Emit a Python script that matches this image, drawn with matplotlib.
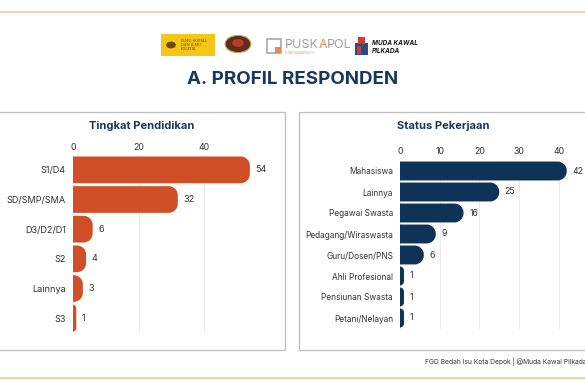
import numpy as np
import matplotlib.pyplot as plt
from matplotlib.path import Path
from matplotlib.patches import PathPatch, Rectangle, Circle

plt.rcParams['font.family'] = ['Inter', 'DejaVu Sans']

# data
pendidikan_labels = ["S1/D4", "SD/SMP/SMA", "D3/D2/D1", "S2", "Lainnya", "S3"]
pendidikan_values = [54, 32, 6, 4, 3, 1]
pendidikan_ticks = [0, 20, 40]

pekerjaan_labels = ["Mahasiswa", "Lainnya", "Pegawai Swasta", "Pedagang/Wiraswasta",
                    "Guru/Dosen/PNS", "Ahli Profesional", "Pensiunan Swasta", "Petani/Nelayan"]
pekerjaan_values = [42, 25, 16, 9, 6, 1, 1, 1]
pekerjaan_ticks = [0, 10, 20, 30, 40]

W, H = 585, 390
fig = plt.figure(figsize=(W / 100, H / 100), dpi=100)
fig.patch.set_facecolor("white")
renderer = fig.canvas.get_renderer()


def fx(x):
    return x / W


def fy(y):
    return 1 - y / H


def box(x0, y0, x1, y1):
    # pixel box (top-left origin) -> add_axes rect
    return [fx(x0), fy(y1), fx(x1) - fx(x0), fy(y0) - fy(y1)]


# frame lines
line_col = "#F4C9A4"
fig.add_artist(plt.Line2D([0, 1], [fy(12), fy(12)], color=line_col, lw=1.3))
fig.add_artist(plt.Line2D([0, 1], [fy(378), fy(378)], color=line_col, lw=1.3))

# panel boxes
fig.add_artist(Rectangle((fx(-2), fy(350)), fx(287), fy(112) - fy(350),
                         fill=False, ec="#BDBDBD", lw=0.9))
fig.add_artist(Rectangle((fx(299), fy(350)), fx(300), fy(112) - fy(350),
                         fill=False, ec="#BDBDBD", lw=0.9))

# logos (rough)
fig.add_artist(Rectangle((fx(161), fy(56)), fx(54), fy(34) - fy(56), color="#F5C518", lw=0))
fig.add_artist(Circle((fx(171), fy(45)), 0.007, color="#6B4A10"))
fig.text(fx(181), fy(45), "ILMU SOSIAL\nDAN ILMU\nPOLITIK", fontsize=2.6, color="#5A4410",
         va="center", ha="left", family="DejaVu Serif", linespacing=1.0)
fig.add_artist(Circle((fx(238), fy(44)), 0.022, fc="#5B2E1E", ec="#C9A640", lw=0.8))
fig.add_artist(Circle((fx(238), fy(43)), 0.01, fc="#C0392B", ec="none"))
fig.add_artist(Rectangle((fx(267), fy(53)), fx(14), fy(39) - fy(53),
                         fill=False, ec="#A8A8A8", lw=1.2))
fig.add_artist(Rectangle((fx(275), fy(53)), fx(6), fy(47) - fy(53), color="#E8884A", lw=0))

# PUSKAPOL word, one part after the other
px = fx(285)
for part, col in [("PUSK", "#A0A0A0"), ("A", "#E8884A"), ("POL", "#A0A0A0")]:
    t = fig.text(px, fy(45), part, fontsize=9, color=col, va="center", ha="left")
    px = fig.transFigure.inverted().transform(
        (t.get_window_extent(renderer).x1 - 0.5, 0))[0]
fig.text(fx(285), fy(53.5), "PUSAT KAJIAN POLITIK", fontsize=1.8, color="#E8884A",
         va="center", ha="left")
fig.add_artist(Rectangle((fx(355), fy(55)), fx(13), fy(43) - fy(55), color="#1F4E8C", lw=0))
fig.add_artist(Rectangle((fx(357), fy(54)), fx(4), fy(46) - fy(54), color="#D33A2C", lw=0))
fig.add_artist(Rectangle((fx(358), fy(44)), fx(7), fy(37) - fy(44), color="#D33A2C", lw=0))
fig.text(fx(372), fy(43), "MUDA KAWAL", fontsize=4.6, color="#1A1A1A", weight="bold",
         style="italic", va="center", ha="left")
fig.text(fx(372), fy(51), "PILKADA", fontsize=4.6, color="#1A1A1A", weight="bold",
         style="italic", va="center", ha="left")

# title
navy_t = "#17375E"
fig.text(0.5, fy(80), "A. PROFIL RESPONDEN", fontsize=13.5, weight="bold",
         color=navy_t, ha="center", va="center")

# footer
fig.text(fx(425), fy(362), "FGD Bedah Isu Kota Depok | @Muda Kawal Pilkada",
         fontsize=4.8, color="#333333", ha="left", va="center")


def rounded_bars(ax, bars, r_px, color):
    pos = ax.get_position()
    x0l, x1l = ax.get_xlim()
    y0l, y1l = ax.get_ylim()
    sx = pos.width * W / abs(x1l - x0l)
    sy = pos.height * H / abs(y1l - y0l)
    k = 0.5523
    for rect in bars:
        x0, y0 = rect.get_x(), rect.get_y()
        w, h = rect.get_width(), rect.get_height()
        r = min(r_px, w * sx, h * sy / 2)
        rx, ry = r / sx, r / sy
        verts = [(x0, y0), (x0 + w - rx, y0),
                 (x0 + w - rx + k * rx, y0), (x0 + w, y0 + ry - k * ry), (x0 + w, y0 + ry),
                 (x0 + w, y0 + h - ry),
                 (x0 + w, y0 + h - ry + k * ry), (x0 + w - rx + k * rx, y0 + h), (x0 + w - rx, y0 + h),
                 (x0, y0 + h), (x0, y0)]
        codes = [Path.MOVETO, Path.LINETO,
                 Path.CURVE4, Path.CURVE4, Path.CURVE4,
                 Path.LINETO,
                 Path.CURVE4, Path.CURVE4, Path.CURVE4,
                 Path.LINETO, Path.CLOSEPOLY]
        rect.remove()
        ax.add_patch(PathPatch(Path(verts, codes), fc=color, ec="none", zorder=3))


def panel(rect, labels, values, ticks, xmax, color, title, title_x, label_pad, tick_pad,
          label_size, value_size):
    ax = fig.add_axes(rect)
    y = np.arange(len(labels))
    ax.set_xlim(0, xmax)
    ax.set_ylim(len(labels) - 0.5, -0.5)
    bars = ax.barh(y, values, height=0.9, color=color)
    rounded_bars(ax, bars, 9, color)
    for yi, v in zip(y, values):
        ax.annotate(str(v), (v, yi), xytext=(4, 0), textcoords="offset points",
                    va="center", ha="left", fontsize=value_size, color="#333333",
                    clip_on=False)
    ax.set_yticks(y)
    ax.set_yticklabels(labels, fontsize=label_size, color="#333333")
    ax.set_xticks(ticks)
    ax.xaxis.tick_top()
    ax.tick_params(axis="x", length=0, labelsize=6.3, labelcolor="#333333", pad=tick_pad)
    ax.tick_params(axis="y", length=0, pad=label_pad)
    ax.grid(axis="x", color="#E6E6E6", lw=0.6)
    ax.set_axisbelow(True)
    for s in ax.spines.values():
        s.set_visible(False)
    ax.patch.set_alpha(0)
    fig.text(title_x, fy(126), title, fontsize=8, weight="bold", color=navy_t,
             ha="center", va="center")
    return ax


panel(box(73, 155, 73 + 60 * 3.275, 333), pendidikan_labels, pendidikan_values,
      pendidikan_ticks, 60, "#D14F26", "Tingkat Pendidikan", fx(142), 5, 2, 6.6, 6.5)
panel(box(400, 160.5, 400 + 45 * 3.97, 328.5), pekerjaan_labels, pekerjaan_values,
      pekerjaan_ticks, 45, "#0E3357", "Status Pekerjaan", fx(443), 5, 3, 6, 6.3)

fig.savefig("out.png", dpi=100, facecolor="white")
